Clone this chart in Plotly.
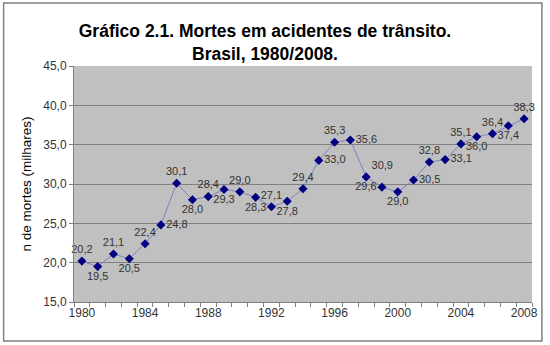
import plotly.graph_objects as go

years = list(range(1980, 2009))
deaths = [20.2, 19.5, 21.1, 20.5, 22.4, 24.8, 30.1, 28.0, 28.4, 29.3,
          29.0, 28.3, 27.1, 27.8, 29.4, 33.0, 35.3, 35.6, 30.9, 29.6,
          29.0, 30.5, 32.8, 33.1, 35.1, 36.0, 36.4, 37.4, 38.3]
labels = [f"{v:.1f}".replace(".", ",") for v in deaths]
label_pos = ["top center", "bottom center", "top center", "bottom center", "top center",
             "middle right", "top center", "bottom center", "top center", "bottom center",
             "top center", "bottom center", "top center", "bottom center", "top center",
             "middle right", "top center", "middle right", "top right", "middle left",
             "bottom center", "middle right", "top center", "middle right", "top center",
             "bottom center", "top center", "bottom center", "top center"]
y_ticks = [15, 20, 25, 30, 35, 40, 45]
x_ticks = [1980, 1984, 1988, 1992, 1996, 2000, 2004, 2008]

fig = go.Figure()
fig.add_trace(go.Scatter(
    x=years, y=deaths, mode="lines+markers+text",
    line=dict(color="#8080c0", width=1),
    marker=dict(symbol="diamond", size=7, color="#000080"),
    text=labels, textposition=label_pos,
    textfont=dict(family="Liberation Sans, Arial", size=11, color="#333333"),
    cliponaxis=False, showlegend=False,
))

fig.update_layout(
    width=550, height=345,
    margin=dict(l=74, r=14, t=66, b=43),
    paper_bgcolor="white", plot_bgcolor="#c0c0c0",
    separators=", ",
    title=dict(
        text="<b>Gráfico 2.1. Mortes em acidentes de trânsito.<br>Brasil, 1980/2008.</b>",
        x=265/550, xanchor="center", y=1 - 37/345, yanchor="middle",
        font=dict(family="Liberation Sans, Arial", size=17.5, color="#000000"),
    ),
    font=dict(family="Liberation Sans, Arial"),
    xaxis=dict(
        range=[1979.5, 2008.5], tickvals=x_ticks, ticktext=[str(v) for v in x_ticks],
        ticks="", showgrid=False, zeroline=False,
        showline=True, linecolor="#808080", linewidth=1,
        tickfont=dict(size=12, color="#333333"),
        minor=dict(ticks="outside", tick0=1979.5, dtick=1, ticklen=4,
                   tickcolor="#808080", showgrid=False),
    ),
    yaxis=dict(
        range=[15, 45], tickvals=y_ticks, tickformat=".1f",
        ticks="outside", ticklen=4, tickcolor="#808080",
        showgrid=True, gridcolor="#808080", gridwidth=1, zeroline=False,
        showline=True, linecolor="#808080", linewidth=1,
        tickfont=dict(size=12, color="#333333"),
        title=dict(text="n de mortes (milhares)",
                   font=dict(size=13.5, color="#000000"), standoff=8),
    ),
)

fig.add_shape(type="rect", xref="paper", yref="paper",
              x0=-71/462, x1=(546-74)/462, y0=-(341-302)/236, y1=(302-3)/236,
              line=dict(color="#808080", width=1.5), fillcolor="rgba(0,0,0,0)")

fig.write_html("out.html")
